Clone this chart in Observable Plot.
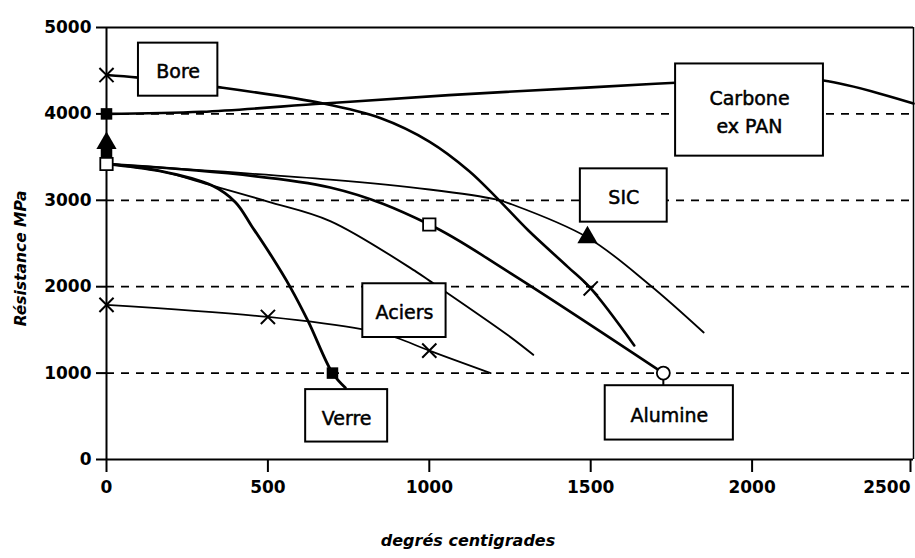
<!DOCTYPE html>
<html>
<head>
<meta charset="utf-8">
<script src="https://cdn.jsdelivr.net/npm/d3@7"></script>
<script src="https://cdn.jsdelivr.net/npm/@observablehq/plot@0.6"></script>
<style>
  html, body { margin: 0; padding: 0; background: #fff; }
</style>
</head>
<body>
<div id="chart"></div>
<script>
// ---- values (temperature °C, resistance MPa) ----
const xTicks = [0, 500, 1000, 1500, 2000];
const xLastTick = [2500];
const yTicks = [0, 1000, 2000, 3000, 4000, 5000];
const gridLevels = [1000, 2000, 3000, 4000];

const boreT = [0, 99, 345, 672, 850, 1000, 1123, 1206, 1307, 1429, 1500, 1635];
const boreR = [4450, 4420, 4310, 4120, 3950, 3680, 3340, 3040, 2650, 2230, 1980, 1320];

const carboneT = [0, 295, 672, 1061, 1500, 1763, 2000, 2221, 2500];
const carboneR = [4000, 4024, 4120, 4217, 4307, 4361, 4395, 4386, 4120];

const sicT = [0, 693, 1000, 1206, 1255, 1490, 1683, 1850];
const sicR = [3420, 3239, 3125, 3011, 2954, 2570, 2020, 1470];

const alumineT = [0, 693, 1000, 1245, 1725];
const alumineR = [3420, 3148, 2720, 2172, 1000];

const acier2T = [0, 164, 327, 500, 693, 960, 1000, 1245, 1322];
const acier2R = [3420, 3340, 3170, 2985, 2760, 2172, 2070, 1435, 1212];

const verreT = [0, 164, 327, 400, 450, 510, 570, 626, 700, 740];
const verreR = [3420, 3340, 3170, 2975, 2700, 2360, 1990, 1590, 1000, 830];

const aciersT = [0, 500, 794, 896, 1000, 1190];
const aciersR = [1790, 1650, 1506, 1412, 1260, 1000];

// markers
const timesT = [0, 1500, 0, 500, 1000];
const timesR = [4450, 1980, 1790, 1650, 1260];
const filledSqT = [0, 0, 700];
const filledSqR = [4000, 3530, 1000];
const triT = [0, 1490];
const triR = [3660, 2570];
const openSqT = [0, 1000];
const openSqR = [3420, 2720];
const openCircT = [1725];
const openCircR = [1000];

// labels (boxes given in data units)
const labelNames = ["Bore", "Carbone\nex PAN", "SIC", "Aciers", "Verre", "Alumine"];
const labelX1 = [99, 1763, 1468, 794, 617, 1545];
const labelX2 = [345, 2221, 1737, 1052, 871, 1942];
const labelY1 = [4205, 3511, 2747, 1412, 202, 225];
const labelY2 = [4819, 4578, 3364, 2034, 809, 854];

const xTitle = "degrés centigrades";
const yTitle = "Résistance MPa";

// ---- build tables ----
const zip = (t, r) => t.map((x, i) => ({x, y: r[i]}));
const curves = [
  {pts: zip(carboneT, carboneR), w: 2.6},
  {pts: zip(boreT, boreR), w: 2.6},
  {pts: zip(sicT, sicR), w: 1.8},
  {pts: zip(alumineT, alumineR), w: 2.6},
  {pts: zip(acier2T, acier2R), w: 1.9},
  {pts: zip(verreT, verreR), w: 2.8},
  {pts: zip(aciersT, aciersR), w: 1.7}
];
const labels = labelNames.map((name, i) => ({
  name, x1: labelX1[i], x2: labelX2[i], y1: labelY1[i], y2: labelY2[i]
}));
// short stem from the Alumine end marker down to its label box
const alumineStem = [{x: openCircT[0], y1: labelY2[5], y2: openCircR[0]}];

const curveMarks = curves.map(c =>
  Plot.line(c.pts, {x: "x", y: "y", curve: "catmull-rom", stroke: "black", strokeWidth: c.w, strokeLinecap: "round"})
);

const fmt = d3.format("d");

const chart = Plot.plot({
  width: 915,
  height: 558,
  marginLeft: 106,
  marginRight: 2,
  marginTop: 27,
  marginBottom: 99,
  style: {fontFamily: "DejaVu Sans", fontSize: "17px", color: "black", background: "white"},
  x: {domain: [0, 2500]},
  y: {domain: [0, 5000]},
  marks: [
    Plot.ruleY(gridLevels, {stroke: "black", strokeWidth: 1.8, strokeDasharray: "8,7"}),
    Plot.ruleY([5000], {stroke: "black", strokeWidth: 2}),
    Plot.ruleX([2500], {stroke: "black", strokeWidth: 1.5}),
    Plot.ruleY([0], {stroke: "black", strokeWidth: 2}),
    Plot.ruleX([0], {stroke: "black", strokeWidth: 2}),
    ...curveMarks,
    Plot.ruleX(alumineStem, {x: "x", y1: "y1", y2: "y2", stroke: "black", strokeWidth: 2}),
    Plot.rect(labels, {x1: "x1", x2: "x2", y1: "y1", y2: "y2", fill: "white", stroke: "black", strokeWidth: 2}),
    Plot.text(labels, {x: d => (d.x1 + d.x2) / 2, y: d => (d.y1 + d.y2) / 2, text: "name",
      fontSize: 19, lineHeight: 1.45, fill: "black", stroke: "black", strokeWidth: 0.5}),
    Plot.dot(zip(timesT, timesR), {x: "x", y: "y", symbol: "times", r: 6.5, stroke: "black", strokeWidth: 2}),
    Plot.dot(zip(filledSqT, filledSqR), {x: "x", y: "y", symbol: "square", r: 6.5, fill: "black", stroke: "none"}),
    Plot.dot(zip(triT, triR), {x: "x", y: "y", symbol: "triangle", r: 7.5, fill: "black", stroke: "none"}),
    Plot.dot(zip(openSqT, openSqR), {x: "x", y: "y", symbol: "square", r: 7, fill: "white", stroke: "black", strokeWidth: 1.8}),
    Plot.dot(zip(openCircT, openCircR), {x: "x", y: "y", symbol: "circle", r: 6.5, fill: "white", stroke: "black", strokeWidth: 1.8}),
    Plot.axisX({ticks: xTicks, tickSize: 13, tickPadding: 8, tickFormat: fmt, label: null, strokeWidth: 2, fontWeight: "bold"}),
    Plot.axisX({ticks: xLastTick, tickSize: 13, tickPadding: 8, tickFormat: fmt, label: null, strokeWidth: 2, fontWeight: "bold", textAnchor: "end", dx: -3}),
    Plot.axisY({ticks: yTicks, tickSize: 10, tickPadding: 5, tickFormat: fmt, label: null, strokeWidth: 2, fontWeight: "bold"}),
    Plot.text([xTitle], {frameAnchor: "bottom", dx: -42, dy: 86, text: d => d, fontStyle: "italic", fontWeight: "bold", fontSize: 16}),
    Plot.text([yTitle], {frameAnchor: "left", dx: -85, dy: 15, rotate: -90, textAnchor: "middle", text: d => d, fontStyle: "italic", fontWeight: "bold", fontSize: 15.5})
  ]
});

document.getElementById("chart").appendChild(chart);
</script>
</body>
</html>
